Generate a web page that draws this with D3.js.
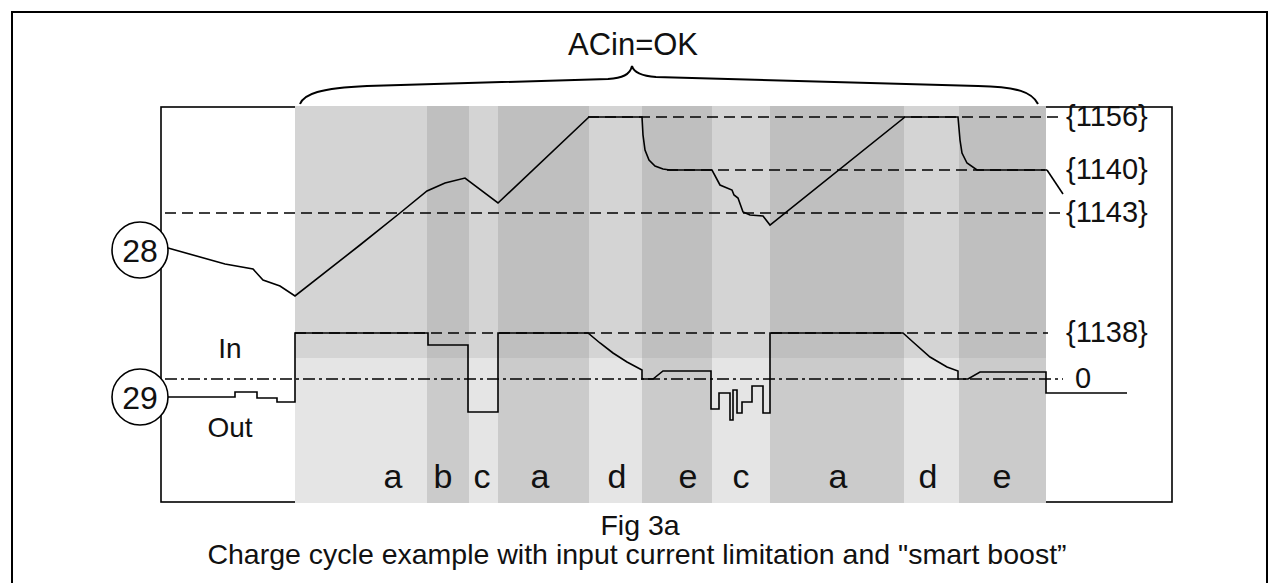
<!DOCTYPE html>
<html><head><meta charset="utf-8">
<script src="https://cdn.jsdelivr.net/npm/d3@7"></script>
<style>body{margin:0;background:#fff}svg{display:block}text{font-family:"Liberation Sans",Arial,sans-serif;fill:#111}</style>
</head><body>
<script>
// ---- data (chart units: t = time, v = signal level) ----
const bandEdges  = [134, 266, 308, 337, 428, 481, 551, 609, 743, 798, 885];
const bandLabels = ["a","b","c","a","d","e","c","a","d","e"];
const bandLabelT = [232, 282, 321, 379, 456, 527, 580, 677, 767, 841];
const bandSplit  = 144;   // boundary between upper and lower shading

const sig28T = [7,64,92,102,119,134,199,239,266,284,304,337,428,481,482,484,488,494,502,509,551,559,571,573,577,582,589,602,609,744,797,799,801,806,816,886];
const sig28V = [254,238,233,222,216,206,257,289,311,319,324,299,385,385,367,352,342,336,333,332,332,317,312,307,304,290,287,286,277,385,385,362,349,339,332,332];
const leaderT = [886, 902];
const leaderV = [332, 308];

const sig29T = [7,74,74,96,96,116,116,134,134,267,267,307,307,337,337,427,439,452,466,481,481,492,502,550,550,558,558,569,569,572,572,576,576,581,581,591,591,602,602,609,609,742,752,769,786,797,797,807,819,885,885,966];
const sig29V = [105,105,110,110,104,104,100,100,169,169,157,157,90,90,169,169,159,149,140,132,123,123,131,131,93,93,109,109,82,82,112,112,89,89,100,100,116,116,89,89,169,169,160,145,135,131,123,123,130,130,109,109];

const levelLabels = ["{1156}","{1140}","{1143}","{1138}","0"];
const levelValues = [385, 332, 289, 169, 123];
const levelStart  = [427, 506, 4, 134, 4];
const levelEnd    = [899, 884, 899, 887, 902];
const levelStyle  = ["dash","dash","dash","dash","dashdot"];

const circleLabels = ["28","29"];
const circleValues = [252, 105];
const sideLabels = ["In","Out"];
const sideValues = [144, 65];

const titleText = "ACin=OK";
const figText = "Fig 3a";
const captionText = "Charge cycle example with input current limitation and \"smart boost\u201d";

// ---- drawing ----
const W = 1270, H = 583;
const svg = d3.select("body").append("svg").attr("width", W).attr("height", H);
const x = d3.scaleLinear().domain([0, 1011]).range([161, 1172]);
const y = d3.scaleLinear().domain([0, 395]).range([502, 107]);

// outer frame
svg.append("path").attr("d", `M12,${H+5}V12H1267V${H+5}`).attr("fill","none").attr("stroke","#000").attr("stroke-width",2);
// inner frame
svg.append("rect").attr("x", x(0)).attr("y", y(395)).attr("width", x(1011)-x(0)).attr("height", y(0)-y(395))
  .attr("fill","none").attr("stroke","#000").attr("stroke-width",1.6);

// bands
const bands = bandLabels.map((l,i)=>({l, t0: bandEdges[i], t1: bandEdges[i+1], lt: bandLabelT[i], dark: i%2===1}));
const gB = svg.append("g");
gB.selectAll("rect.up").data(bands).join("rect")
  .attr("x", d=>x(d.t0)).attr("width", d=>x(d.t1)-x(d.t0))
  .attr("y", y(395)-1).attr("height", y(bandSplit)-y(395)+1)
  .attr("fill", d=>d.dark?"#bfbfbf":"#d4d4d4");
gB.selectAll("rect.lo").data(bands).join("rect")
  .attr("x", d=>x(d.t0)).attr("width", d=>x(d.t1)-x(d.t0))
  .attr("y", y(bandSplit)).attr("height", y(0)-y(bandSplit)+1)
  .attr("fill", d=>d.dark?"#cbcbcb":"#e5e5e5");
gB.selectAll("text").data(bands).join("text")
  .attr("x", d=>x(d.lt)).attr("y", 488)
  .attr("text-anchor","middle").attr("font-size",34).text(d=>d.l);

// level lines
const levels = levelLabels.map((l,i)=>({l, v: levelValues[i], t0: levelStart[i], t1: levelEnd[i], s: levelStyle[i]}));
svg.append("g").selectAll("line").data(levels).join("line")
  .attr("x1", d=>x(d.t0)).attr("x2", d=>x(d.t1)).attr("y1", d=>y(d.v)).attr("y2", d=>y(d.v))
  .attr("stroke","#000").attr("stroke-width",1.5)
  .attr("stroke-dasharray", d=>d.s==="dash"?"11,6":"12,4,3,4");
svg.append("g").selectAll("text").data(levels).join("text")
  .attr("x", d=>d.l==="0"?1075:1066).attr("y", d=>y(d.v)+9)
  .attr("font-size",29).text(d=>d.l);

// signals
const line = d3.line().x(d=>x(d[0])).y(d=>y(d[1]));
const p28 = sig28T.map((t,i)=>[t, sig28V[i]]);
const p29 = sig29T.map((t,i)=>[t, sig29V[i]]);
const pl  = leaderT.map((t,i)=>[t, leaderV[i]]);
[p28, p29, pl].forEach(p=>{
  svg.append("path").attr("d", line(p)).attr("fill","none").attr("stroke","#000")
    .attr("stroke-width",1.6).attr("stroke-linejoin","miter");
});

// circles
circleLabels.forEach((c,i)=>{
  const cy = y(circleValues[i]);
  svg.append("circle").attr("cx", 140).attr("cy", cy).attr("r", 28)
    .attr("fill","#fff").attr("stroke","#000").attr("stroke-width",1.6);
  svg.append("text").attr("x",140).attr("y", cy+11.5).attr("text-anchor","middle")
    .attr("font-size",32).text(c);
});
sideLabels.forEach((s,i)=>{
  svg.append("text").attr("x", 230).attr("y", y(sideValues[i])).attr("text-anchor","middle")
    .attr("font-size",28).text(s);
});

// brace over ACin=OK span
const bx0 = x(bandEdges[0])+5, bx1 = x(bandEdges[bandEdges.length-1])-8, bm = 632;
const bp = `M${bx0},104 C${bx0+4},94 ${bx0+20},88 ${bx0+67},86 L${bm-24},79 C${bm-10},78 ${bm-2},75 ${bm},66 C${bm+2},73 ${bm+10},76 ${bm+24},77 L${bx1-60},86 C${bx1-20},87 ${bx1-6},92 ${bx1},104`;
svg.append("path").attr("d", bp).attr("fill","none").attr("stroke","#000").attr("stroke-width",2);
svg.append("text").attr("x", bm+1).attr("y", 55).attr("text-anchor","middle").attr("font-size",31).text(titleText);

// captions
svg.append("text").attr("x", 640).attr("y", 535).attr("text-anchor","middle").attr("font-size",28.5).text(figText);
svg.append("text").attr("x", 637).attr("y", 564).attr("text-anchor","middle").attr("font-size",28.5).text(captionText);
</script>
</body></html>
